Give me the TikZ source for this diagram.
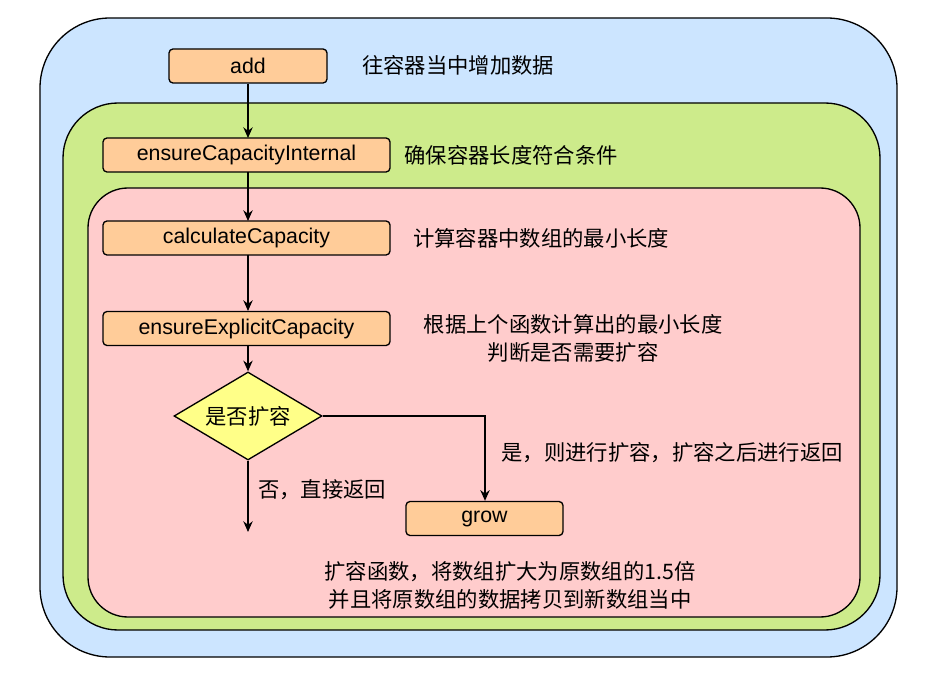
\documentclass[tikz,border=0pt]{standalone}
\usepackage{fontspec}
\setmainfont{Liberation Sans}
\newfontfamily\cjk{Noto Sans CJK SC}
\usetikzlibrary{shapes.geometric,arrows.meta}
\begin{document}
\begin{tikzpicture}[x=0.75pt,y=-0.75pt,
  fn/.style={draw,line width=1pt,fill={rgb,255:red,255;green,204;blue,153},rounded corners=3pt,minimum width=#1*0.75pt,minimum height=34*0.75pt,inner sep=0pt,font=\fontsize{16}{18}\selectfont},
  lbl/.style={font=\cjk\fontsize{16}{21}\selectfont,align=center,inner sep=0pt},
  arr/.style={-{Stealth[length=8pt,width=7pt]},line width=1.2pt}]
\useasboundingbox (0,0) rectangle (939,684);
\definecolor{cb}{RGB}{204,229,255}
\definecolor{cg}{RGB}{205,235,139}
\definecolor{cp}{RGB}{255,204,204}
\definecolor{cy}{RGB}{255,255,136}
\draw[line width=1pt,fill=cb,rounded corners=70*0.75pt] (40,18) rectangle (897,657);
\draw[line width=1pt,fill=cg,rounded corners=55*0.75pt] (63,103) rectangle (880,630);
\draw[line width=1pt,fill=cp,rounded corners=40*0.75pt] (88,188) rectangle (860,617);
\node[fn=158] (add) at (248,66) {add};
\node[fn=287] (eci) at (246.5,155) {ensureCapacityInternal};
\node[fn=287] (cc) at (246.5,238) {calculateCapacity};
\node[fn=287] (eec) at (246.5,328.5) {ensureExplicitCapacity};
\node[diamond,draw,line width=1pt,fill=cy,minimum width=148*0.75pt,minimum height=88*0.75pt,inner sep=0pt,aspect=1.68,font=\cjk\fontsize{16}{18}\selectfont] (d) at (248,416) {是否扩容};
\node[fn=157] (grow) at (484.5,518.5) {grow};
\coordinate (end) at (248,532);
\coordinate (turn) at (485,416);
\draw[arr] (add.south) -- (248,138);
\draw[arr] (248,172) -- (248,221);
\draw[arr] (248,255) -- (248,311);
\draw[arr] (248,346) -- (d.north);
\draw[arr] (d.south) -- (end);
\draw[arr] (d.east) -- (turn) -- (grow.north -| turn);
\node[lbl] (t1) at (458,65) {往容器当中增加数据};
\node[lbl] (t2) at (511,155) {确保容器长度符合条件};
\node[lbl] (t3) at (541,238) {计算容器中数组的最小长度};
\node[lbl] (t4) at (573,338) {根据上个函数计算出的最小长度\\判断是否需要扩容};
\node[lbl] (t5) at (672,453) {是，则进行扩容，扩容之后进行返回};
\node[lbl] (t6) at (322,490) {否，直接返回};
\node[lbl] (t7) at (510,585) {扩容函数，将数组扩大为原数组的1.5倍\\并且将原数组的数据拷贝到新数组当中};
\end{tikzpicture}
\end{document}
